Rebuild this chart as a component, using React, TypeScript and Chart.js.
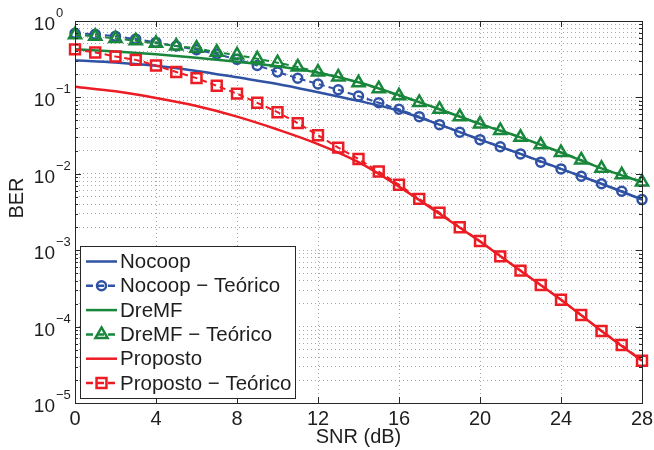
import React, { useEffect, useRef } from "react";
import { Chart, registerables } from "chart.js";
Chart.register(...registerables);

// ---------- data ----------
const snrDb = [0, 1, 2, 3, 4, 5, 6, 7, 8, 9, 10, 11, 12, 13, 14, 15, 16, 17, 18, 19, 20, 21, 22, 23, 24, 25, 26, 27, 28];
const lineSnrDb = [0, 2, 4, 6, 8, 10, 12, 14, 16, 18, 20, 22, 24, 26, 28];

const nocoop = [0.307, 0.287, 0.26, 0.222, 0.183, 0.15, 0.117, 0.09, 0.067, 0.044, 0.028, 0.0182, 0.0116, 0.0074, 0.0046];
const nocoopTeorico = [0.69, 0.67, 0.63, 0.58, 0.525, 0.47, 0.42, 0.37, 0.315, 0.262, 0.215, 0.178, 0.15, 0.126, 0.104, 0.085, 0.07, 0.056, 0.044, 0.035, 0.028, 0.0226, 0.0182, 0.0142, 0.0116, 0.0093, 0.0074, 0.0059, 0.0046];

const dremf = [0.428, 0.4, 0.367, 0.33, 0.292, 0.255, 0.21, 0.158, 0.107, 0.07, 0.045, 0.03, 0.019, 0.0118, 0.0078];
const dremfTeorico = [0.66, 0.63, 0.59, 0.55, 0.51, 0.47, 0.44, 0.39, 0.36, 0.32, 0.285, 0.25, 0.215, 0.185, 0.155, 0.13, 0.105, 0.086, 0.07, 0.056, 0.045, 0.037, 0.03, 0.024, 0.019, 0.0152, 0.0118, 0.0097, 0.0078];

const proposto = [0.138, 0.12, 0.098, 0.077, 0.056, 0.038, 0.0245, 0.0142, 0.0068, 0.003, 0.0013, 0.00054, 0.000225, 0.0000876, 0.0000357];
const propostoTeorico = [0.425, 0.387, 0.343, 0.31, 0.262, 0.215, 0.179, 0.142, 0.112, 0.085, 0.064, 0.046, 0.032, 0.022, 0.0156, 0.0107, 0.0072, 0.0047, 0.0031, 0.002, 0.00132, 0.00083, 0.00054, 0.00035, 0.000225, 0.000142, 0.0000876, 0.0000575, 0.0000357];

const xTicks = [0, 4, 8, 12, 16, 20, 24, 28];
const yExponents = [0, -1, -2, -3, -4, -5];
const seriesLabels = ["Nocoop", "Nocoop \u2212 Teórico", "DreMF", "DreMF \u2212 Teórico", "Proposto", "Proposto \u2212 Teórico"];
const xTitle = "SNR (dB)";
const yTitle = "BER";

// ---------- styles ----------
const BLUE = "#2f52a4";
const GREEN = "#19873b";
const RED = "#ec1c24";
const TEXT = "#1e1e1e";
const FONT = "'Liberation Sans', Arial, Helvetica, sans-serif";

const yGridValues: number[] = [];
for (let e = -5; e < 0; e++) for (let m = 1; m <= 9; m++) yGridValues.push(m * Math.pow(10, e));
yGridValues.push(1);

const legendItems = [
  { color: BLUE, dashed: false, marker: null as string | null },
  { color: BLUE, dashed: true, marker: "circle" },
  { color: GREEN, dashed: false, marker: null },
  { color: GREEN, dashed: true, marker: "triangle" },
  { color: RED, dashed: false, marker: null },
  { color: RED, dashed: true, marker: "rect" },
];

function drawMarker(ctx: CanvasRenderingContext2D, style: string, x: number, y: number, color: string) {
  ctx.save();
  ctx.setLineDash([]);
  ctx.strokeStyle = color;
  ctx.lineWidth = 2.5;
  ctx.beginPath();
  if (style === "circle") {
    ctx.arc(x, y, 4.5, 0, Math.PI * 2);
  } else if (style === "triangle") {
    const r = 7;
    ctx.moveTo(x, y - r);
    ctx.lineTo(x + r * Math.sin((2 * Math.PI) / 3), y - r * Math.cos((2 * Math.PI) / 3));
    ctx.lineTo(x + r * Math.sin((4 * Math.PI) / 3), y - r * Math.cos((4 * Math.PI) / 3));
    ctx.closePath();
  } else {
    const s = 7 * Math.SQRT1_2;
    ctx.rect(x - s, y - s, 2 * s, 2 * s);
  }
  ctx.stroke();
  ctx.restore();
}

const matlabAxes = {
  id: "matlabAxes",
  afterDraw(chart: any) {
    const { ctx, chartArea } = chart;
    const { left, right, top, bottom } = chartArea;
    const xs = chart.scales.x;
    const ys = chart.scales.y;
    ctx.save();
    ctx.setLineDash([]);
    ctx.strokeStyle = "#262626";
    ctx.lineWidth = 1;
    // box
    ctx.strokeRect(Math.round(left) + 0.5, Math.round(top) + 0.5, Math.round(right - left), Math.round(bottom - top));
    // ticks (inward, all four sides)
    ctx.beginPath();
    yGridValues.forEach((v) => {
      const py = Math.round(ys.getPixelForValue(v)) + 0.5;
      const major = Math.abs(Math.log10(v) - Math.round(Math.log10(v))) < 1e-9;
      const len = major ? 6 : 3;
      ctx.moveTo(left, py);
      ctx.lineTo(left + len, py);
      ctx.moveTo(right, py);
      ctx.lineTo(right - len, py);
    });
    xTicks.forEach((v) => {
      const px = Math.round(xs.getPixelForValue(v)) + 0.5;
      ctx.moveTo(px, bottom);
      ctx.lineTo(px, bottom - 6);
      ctx.moveTo(px, top);
      ctx.lineTo(px, top + 6);
    });
    ctx.stroke();

    // tick labels
    ctx.fillStyle = TEXT;
    ctx.font = `20px ${FONT}`;
    ctx.textAlign = "center";
    ctx.textBaseline = "alphabetic";
    xTicks.forEach((v) => {
      ctx.fillText(String(v), xs.getPixelForValue(v), 425);
    });
    yExponents.forEach((e) => {
      const py = ys.getPixelForValue(Math.pow(10, e));
      ctx.font = `19px ${FONT}`;
      ctx.textAlign = "right";
      ctx.fillText("10", 55, py + 9);
      ctx.font = `13px ${FONT}`;
      ctx.textAlign = "left";
      const exp = e === 0 ? "0" : "\u2212" + String(-e);
      ctx.fillText(exp, 56, py - 4);
    });

    // axis titles
    ctx.font = `20px ${FONT}`;
    ctx.textAlign = "center";
    ctx.fillText(xTitle, (left + right) / 2, 443);
    ctx.save();
    ctx.translate(23, 198);
    ctx.rotate(-Math.PI / 2);
    ctx.fillText(yTitle, 0, 0);
    ctx.restore();

    // legend
    const lx = 80, ly = 246, lw = 215, lh = 152;
    ctx.fillStyle = "#ffffff";
    ctx.fillRect(lx, ly, lw, lh);
    ctx.strokeStyle = "#262626";
    ctx.lineWidth = 1;
    ctx.strokeRect(lx + 0.5, ly + 0.5, lw, lh);
    legendItems.forEach((it, i) => {
      const cy = 261.5 + i * 24.3;
      ctx.save();
      ctx.strokeStyle = it.color;
      ctx.lineWidth = 2.5;
      ctx.setLineDash(it.dashed ? [7, 4] : []);
      ctx.beginPath();
      ctx.moveTo(86, cy);
      ctx.lineTo(117, cy);
      ctx.stroke();
      ctx.restore();
      if (it.marker) drawMarker(ctx, it.marker, 101.5, cy, it.color);
      ctx.fillStyle = TEXT;
      ctx.font = `20.5px ${FONT}`;
      ctx.textAlign = "left";
      ctx.textBaseline = "middle";
      ctx.fillText(seriesLabels[i], 120, cy + 1);
    });
    ctx.restore();
  },
};

function solid(label: string, xsArr: number[], ysArr: number[], color: string, order: number) {
  return {
    label,
    data: xsArr.map((x, i) => ({ x, y: ysArr[i] })),
    borderColor: color,
    backgroundColor: color,
    borderWidth: 2.5,
    pointRadius: 0,
    fill: false,
    cubicInterpolationMode: "monotone",
    order,
    clip: false,
  };
}

function marked(label: string, ysArr: number[], color: string, style: string, radius: number, order: number) {
  return {
    label,
    data: snrDb.map((x, i) => ({ x, y: ysArr[i] })),
    borderColor: color,
    backgroundColor: color,
    borderWidth: 2,
    borderDash: [6, 4],
    pointStyle: style,
    pointRadius: radius,
    pointBorderWidth: 2.5,
    pointBorderColor: color,
    pointBackgroundColor: "rgba(0,0,0,0)",
    fill: false,
    order,
    clip: false,
  };
}

export default function App() {
  const ref = useRef<HTMLCanvasElement | null>(null);
  useEffect(() => {
    if (!ref.current) return;
    const chart = new Chart(ref.current, {
      type: "line",
      data: {
        datasets: [
          solid(seriesLabels[0], lineSnrDb, nocoop, BLUE, 6),
          marked(seriesLabels[1], nocoopTeorico, BLUE, "circle", 4.5, 5),
          solid(seriesLabels[2], lineSnrDb, dremf, GREEN, 4),
          marked(seriesLabels[3], dremfTeorico, GREEN, "triangle", 7, 3),
          solid(seriesLabels[4], lineSnrDb, proposto, RED, 2),
          marked(seriesLabels[5], propostoTeorico, RED, "rect", 7, 1),
        ] as any,
      },
      options: {
        animation: false,
        responsive: false,
        devicePixelRatio: 1,
        layout: { padding: { left: 0, right: 12, top: 21, bottom: 0 } },
        plugins: { legend: { display: false }, tooltip: { enabled: false } },
        scales: {
          x: {
            type: "linear",
            min: 0,
            max: 28,
            ticks: { display: false, stepSize: 4 },
            grid: { color: "#a8a8a8", lineWidth: 1, drawTicks: false },
            border: { display: false, dash: [1, 3] },
            afterFit: (s: any) => {
              s.height = 47;
            },
          },
          y: {
            type: "logarithmic",
            min: 1e-5,
            max: 1,
            ticks: { display: false, autoSkip: false },
            afterBuildTicks: (s: any) => {
              s.ticks = yGridValues.map((v) => ({ value: v }));
            },
            grid: { color: "#a8a8a8", lineWidth: 1, drawTicks: false },
            border: { display: false, dash: [1, 3] },
            afterFit: (s: any) => {
              s.width = 75;
            },
          },
        },
      } as any,
      plugins: [matlabAxes],
    });
    return () => chart.destroy();
  }, []);
  return (
    <div style={{ position: "absolute", left: 0, top: 0, width: 654, height: 450, background: "#fff" }}>
      <canvas ref={ref} width={654} height={450} style={{ width: 654, height: 450, display: "block" }} />
    </div>
  );
}
